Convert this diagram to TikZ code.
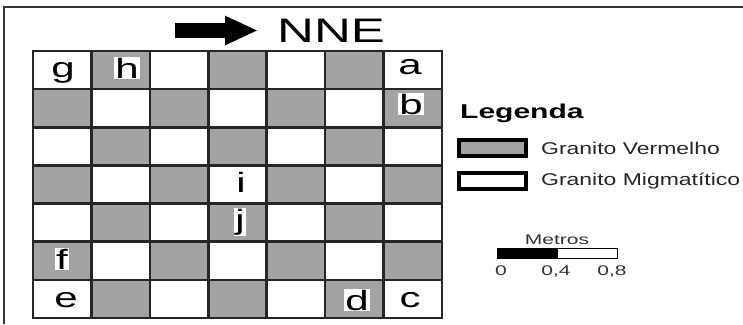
\documentclass[tikz,border=0pt]{standalone}
\usepackage{fontspec}
\setmainfont{Liberation Sans}
\newfontfamily\mapfont[FakeStretch=1.5]{Liberation Sans}
\newfontfamily\legfont[FakeStretch=1.35]{Liberation Sans}
\usetikzlibrary{arrows.meta,positioning}
\definecolor{granito}{gray}{0.64}

\begin{document}
\begin{tikzpicture}[x=1pt,y=-1pt,>=Latex,every node/.style={font=\mapfont,inner sep=0pt},
  letra/.style={fill=white,inner sep=1.2pt,anchor=base,font=\mapfont\fontsize{28}{28}\selectfont},
  grade/.style={line width=2.5pt,black!85},
  legbox/.style={draw=black,line width=4pt,minimum width=67pt,minimum height=16pt},
  legtext/.style={font=\legfont\fontsize{17}{17}\selectfont,text=black!85},
  escala/.style={anchor=base,font=\mapfont\fontsize{14}{14}\selectfont,text=black!80}]
\useasboundingbox (0,0) rectangle (743,324);
\draw[line width=2pt,black!80] (4,324) -- (4,7) -- (743,7);

% malha 7x7
\foreach \c in {0,...,6}
  \foreach \r in {0,...,6} {
    \pgfmathtruncatemacro{\impar}{mod(\c+\r,2)}
    \ifnum\impar=1 \fill[granito] ({33+58.43*\c},{51+38.14*\r}) rectangle ++(58.43,38.14); \fi
  }
\foreach \c in {0,...,7} \draw[grade] ({33+58.43*\c},51) -- ({33+58.43*\c},318);
\foreach \r in {0,...,7} \draw[grade] (33,{51+38.14*\r}) -- (442,{51+38.14*\r});
\draw[grade] (33,51) rectangle (442,318);

% pontos
\node[letra] (g) at (63,77) {g};
\node[letra] (h) at (127,78) {h};
\node[letra] (a) at (410,74) {a};
\node[letra] (b) at (411,114) {b};
\node[letra] (i) at (241,192) {i};
\node[letra] (j) at (240,229) {j};
\node[letra] (f) at (62,269) {f};
\node[letra] (e) at (66,307) {e};
\node[letra] (d) at (357,310) {d};
\node[letra] (c) at (410,307) {c};

% orientacao
\node[anchor=west,font=\mapfont\fontsize{34}{34}\selectfont] (nne) at (277,30.5) {NNE};
\coordinate (seta) at (175,30.5);
\draw[line width=15pt,-{Triangle[length=33pt,width=27pt]}] (seta) -- ([xshift=-19pt]nne.west);

% legenda
\node[anchor=base west,font=\mapfont\bfseries\fontsize{20}{20}\selectfont] (legenda) at (460,118) {Legenda};
\node[legbox,fill=granito] (vermelho) at (492.5,148) {};
\node[legbox,fill=white] (migmatito) at (492.5,181) {};
\node[legtext,right=13pt of vermelho] (tvermelho) {Granito Vermelho};
\node[legtext,right=13pt of migmatito] (tmigmatito) {Granito Migmatítico};

% escala
\node[escala] (metros) at (557,244) {Metros};
\draw[line width=1pt] (497,248) rectangle (617,258);
\fill (497,248) rectangle (558,258);
\node[escala] (zero) at (501,275) {0};
\node[escala] (quatro) at (556,275) {0,4};
\node[escala] (oito) at (612,275) {0,8};
\end{tikzpicture}
\end{document}
